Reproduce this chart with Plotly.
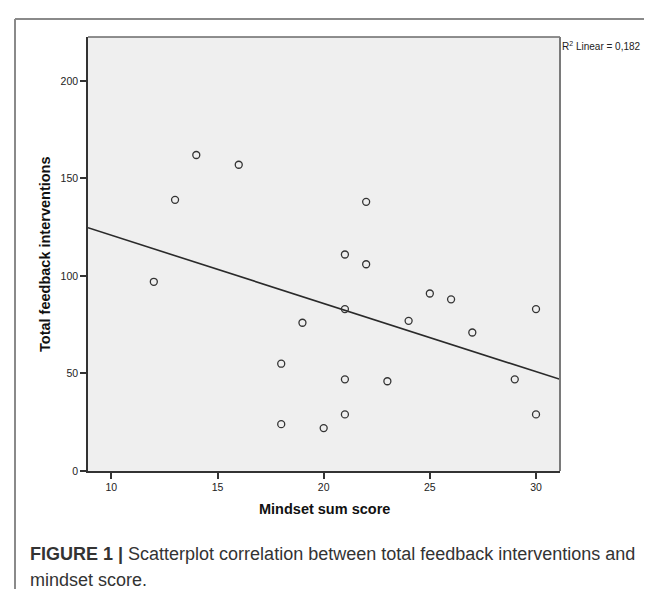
import numpy as np
import plotly.graph_objects as go

# Data
mindset = [12, 13, 14, 16, 18, 18, 19, 20, 21, 21, 21, 21, 22, 22, 23, 24, 25, 26, 27, 29, 30, 30]
feedback = [97, 139, 162, 157, 55, 24, 76, 22, 111, 83, 47, 29, 138, 106, 46, 77, 91, 88, 71, 47, 83, 29]
x_ticks = [10, 15, 20, 25, 30]
y_ticks = [0, 50, 100, 150, 200]
x_range = [8.9, 31.13]
y_range = [0, 222.5]

slope, intercept = np.polyfit(mindset, feedback, 1)
fit_x = np.array(x_range)
fit_y = slope * fit_x + intercept

W, H = 652, 589
L, R, T, B = 80, 100, 29, 126
pw, ph = W - L - R, H - T - B

def px(xp):
    return (xp - L) / pw

def py(yp):
    return (H - B - yp) / ph

FONT = "Liberation Sans Narrow, Liberation Sans, Arial"

fig = go.Figure()
fig.add_trace(go.Scatter(x=fit_x, y=fit_y, mode="lines",
                         line=dict(color="#2a2a2a", width=1.6), hoverinfo="skip"))
fig.add_trace(go.Scatter(x=mindset, y=feedback, mode="markers",
                         marker=dict(symbol="circle-open", size=7, color="#333333",
                                     line=dict(width=1.3, color="#333333"))))

tickfont = dict(family=FONT, size=10.5, color="#222222")
fig.update_xaxes(range=x_range, tickvals=x_ticks, showgrid=False, zeroline=False,
                 showline=True, linecolor="#333333", linewidth=1.5,
                 ticks="outside", ticklen=6, tickcolor="#333333", tickwidth=1.5,
                 tickfont=tickfont)
fig.update_yaxes(range=y_range, tickvals=y_ticks, showgrid=False, zeroline=False,
                 showline=True, linecolor="#333333", linewidth=1.5,
                 ticks="outside", ticklen=6, tickcolor="#333333", tickwidth=1.5,
                 tickfont=tickfont)

shapes = [
    # plot border top/right
    dict(type="line", xref="paper", yref="paper", x0=0, x1=1, y0=1, y1=1,
         line=dict(color="#6a6a6a", width=1.5)),
    dict(type="line", xref="paper", yref="paper", x0=1, x1=1, y0=0, y1=1,
         line=dict(color="#7a7a7a", width=2)),
    # outer frame (top and left edges)
    dict(type="line", xref="paper", yref="paper", x0=px(7), x1=px(W + 5), y0=py(11), y1=py(11),
         line=dict(color="#8a8a8a", width=2)),
    dict(type="line", xref="paper", yref="paper", x0=px(7), x1=px(7), y0=py(11), y1=py(H + 5),
         line=dict(color="#8a8a8a", width=2)),
]

annotations = [
    dict(text="R<sup>2</sup> Linear = 0,182", xref="paper", yref="paper",
         x=px(552), y=py(38), xanchor="left", yanchor="middle", showarrow=False,
         font=dict(family=FONT, size=10, color="#222222")),
    dict(text="<b>Mindset sum score</b>", xref="paper", yref="paper",
         x=0.5, y=py(501), xanchor="center", yanchor="middle", showarrow=False,
         font=dict(family=FONT, size=14.5, color="#111111")),
    dict(text="<b>Total feedback interventions</b>", xref="paper", yref="paper",
         x=px(37), y=0.5, xanchor="center", yanchor="middle", textangle=-90, showarrow=False,
         font=dict(family=FONT, size=14.5, color="#111111")),
    dict(text="<b>FIGURE 1 |</b> Scatterplot correlation between total feedback interventions and",
         xref="paper", yref="paper", x=px(20), y=py(546), xanchor="left", yanchor="middle",
         showarrow=False, font=dict(family="Liberation Sans, Arial", size=18, color="#333333")),
    dict(text="mindset score.",
         xref="paper", yref="paper", x=px(20), y=py(572), xanchor="left", yanchor="middle",
         showarrow=False, font=dict(family="Liberation Sans, Arial", size=18, color="#333333")),
]

fig.update_layout(width=W, height=H, margin=dict(l=L, r=R, t=T, b=B, pad=0),
                  paper_bgcolor="white", plot_bgcolor="#efefef", showlegend=False,
                  shapes=shapes, annotations=annotations)

fig.write_html("out.html")
